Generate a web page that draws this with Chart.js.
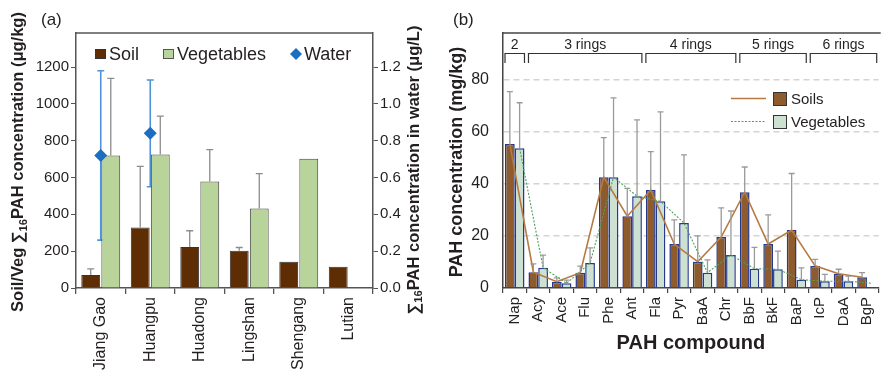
<!DOCTYPE html>
<html>
<head>
<meta charset="utf-8">
<title>PAH concentrations</title>
<script src="https://cdn.jsdelivr.net/npm/chart.js@4.4.1/dist/chart.umd.min.js"></script>
<style>
  body { margin: 0; background: #fff; }
  #chartA { position: absolute; left: 0; top: 0; }
  #chartB { position: absolute; left: 440px; top: 0; }
</style>
</head>
<body>
<canvas id="chartA" width="440" height="375"></canvas>
<canvas id="chartB" width="449" height="375"></canvas>
<script>
// ---- (a) total PAH per site ----
const sites = ['Jiang Gao', 'Huangpu', 'Huadong', 'Lingshan', 'Shengang', 'Lutian'];
const soilTotal = [70, 329, 223, 202, 142, 115];
const soilTotalSd = [34, 332, 88, 18, null, null];
const vegTotal = [720, 725, 578, 432, 702, null];
const vegTotalSd = [419, 209, 174, 189, null, null];
const waterTotal = [0.72, 0.84, null, null, null, null];
const waterTotalSd = [0.46, 0.29, null, null, null, null];
const soilVegTicks = [0, 200, 400, 600, 800, 1000, 1200];
const waterTicks = [0, 0.2, 0.4, 0.6, 0.8, 1.0, 1.2];

// ---- (b) individual compounds ----
const compounds = ['Nap', 'Acy', 'Ace', 'Flu', 'Phe', 'Ant', 'Fla', 'Pyr', 'BaA', 'Chr', 'BbF', 'BkF', 'BaP', 'IcP', 'DaA', 'BgP'];
const soilPah = [55.3, 6.1, 2.4, 5.9, 42.6, 27.6, 37.7, 16.9, 10.1, 19.6, 36.8, 16.9, 22.3, 8.5, 5.5, 4.1];
const soilPahSd = [20.2, 3.2, 1.5, 2.5, 15.2, 10.7, 14.7, 9.3, 9.9, 11.2, 9.7, 11.2, 21.7, 2.5, 1.7, 1.8];
const vegPah = [53.7, 7.8, 1.8, 9.6, 42.6, 35.3, 33.3, 25.0, 5.9, 12.7, 7.4, 7.2, 3.2, 2.6, 2.6, null];
const vegPahSd = [17.5, 4.8, 1.2, 5.8, 30.5, 29.3, 34.4, 26.2, 4.9, 16.9, 8.2, 7.0, 4.5, 2.6, 2.0, null];
const vegTrend = [53.7, 7.8, 1.8, 9.6, 42.6, 35.3, 33.3, 25.0, 5.9, 12.7, 7.4, 7.2, 3.2, 2.6, 2.6, 1.8];
const pahTicks = [0, 20, 40, 60, 80];
const ringLabels = ['2', '3 rings', '4 rings', '5 rings', '6 rings'];
const ringFirst = [0, 1, 6, 10, 13];
const ringLast = [0, 5, 9, 12, 15];

const FONT = '"Liberation Sans", Arial, sans-serif';
const INK = '#231f20';
Chart.defaults.font.family = FONT;
Chart.defaults.color = INK;

// draws vertical text with optional subscript parts, centred on (cx, cy)
function drawRotated(ctx, parts, cx, cy, size, bold) {
  const f = (s) => (bold ? 'bold ' : '') + s + 'px ' + FONT;
  let total = 0;
  parts.forEach(p => { ctx.font = f(p[1] ? size * 0.68 : size); total += ctx.measureText(p[0]).width; });
  ctx.save();
  ctx.translate(cx, cy);
  ctx.rotate(-Math.PI / 2);
  ctx.fillStyle = INK;
  ctx.textAlign = 'left';
  ctx.textBaseline = 'middle';
  let x = -total / 2;
  parts.forEach(p => {
    ctx.font = f(p[1] ? size * 0.68 : size);
    ctx.fillText(p[0], x, p[1] ? size * 0.32 : 0);
    x += ctx.measureText(p[0]).width;
  });
  ctx.restore();
}

function drawText(ctx, txt, x, y, size, bold, align) {
  ctx.save();
  ctx.font = (bold ? 'bold ' : '') + size + 'px ' + FONT;
  ctx.fillStyle = INK;
  ctx.textAlign = align || 'left';
  ctx.textBaseline = 'middle';
  ctx.fillText(txt, x, y);
  ctx.restore();
}

const fixedTicks = (list) => (scale) => { scale.ticks = list.map(v => ({ value: v })); };

// error bars from the dataset's own "errors" array
function drawErrors(chart, layer) {
  const ctx = chart.ctx;
  chart.data.datasets.forEach((ds, di) => {
    if (!ds.errors || (ds.errorLayer || 'after') !== layer) return;
    const meta = chart.getDatasetMeta(di);
    const ys = chart.scales[meta.yAxisID];
    ctx.save();
    ctx.strokeStyle = ds.errorColor;
    ctx.lineWidth = ds.errorWidth || 1;
    meta.data.forEach((el, i) => {
      const v = ds.data[i];
      const e = ds.errors[i];
      if (v == null || e == null) return;
      const x = el.x;
      const yTop = ys.getPixelForValue(v + e);
      const yBot = ds.errorBoth ? ys.getPixelForValue(v - e) : el.y;
      const cap = ds.errorCap;
      ctx.beginPath();
      ctx.moveTo(x, yBot); ctx.lineTo(x, yTop);
      ctx.moveTo(x - cap, yTop); ctx.lineTo(x + cap, yTop);
      if (ds.errorBoth) { ctx.moveTo(x - cap, yBot); ctx.lineTo(x + cap, yBot); }
      ctx.stroke();
    });
    ctx.restore();
  });
}

const errorBars = {
  id: 'errorBars',
  beforeDatasetsDraw(chart) { drawErrors(chart, 'before'); },
  afterDatasetsDraw(chart) { drawErrors(chart, 'after'); }
};

// polyline through the bar centres of a dataset ("trend" array)
const trendLines = {
  id: 'trendLines',
  afterDatasetsDraw(chart) {
    const ctx = chart.ctx;
    chart.data.datasets.forEach((ds, di) => {
      if (!ds.trend) return;
      const meta = chart.getDatasetMeta(di);
      const ys = chart.scales[meta.yAxisID];
      ctx.save();
      ctx.strokeStyle = ds.trendColor;
      ctx.lineWidth = ds.trendWidth;
      ctx.setLineDash(ds.trendDash || []);
      ctx.beginPath();
      ds.trend.forEach((v, i) => {
        const x = meta.data[i].x;
        const y = ys.getPixelForValue(v);
        if (i === 0) ctx.moveTo(x, y); else ctx.lineTo(x, y);
      });
      ctx.stroke();
      ctx.restore();
    });
  }
};

// ---------- panel (a) ----------
const panelA = {
  id: 'panelA',
  afterDraw(chart) {
    const ctx = chart.ctx;
    const a = chart.chartArea;
    ctx.save();
    ctx.strokeStyle = '#555';
    ctx.lineWidth = 1.5;
    ctx.beginPath();
    ctx.moveTo(a.left, a.top); ctx.lineTo(a.right, a.top);
    ctx.stroke();
    ctx.restore();

    drawText(ctx, '(a)', 41, 20, 17);
    drawRotated(ctx, [['Soil/Veg ', 0], ['\u2211', 0], ['16', 1], ['PAH concentration (\u03bcg/kg)', 0]], 18.5, 162, 16.5, true);
    drawRotated(ctx, [['\u2211', 0], ['16', 1], ['PAH concentration in water (\u03bcg/L)', 0]], 414, 170, 16.5, true);

    // legend
    const ly = 54;
    ctx.save();
    ctx.lineWidth = 1;
    ctx.fillStyle = '#5e2d03'; ctx.strokeStyle = '#333';
    ctx.fillRect(95, ly - 5, 11, 10); ctx.strokeRect(95.5, ly - 4.5, 10, 9);
    ctx.fillStyle = '#b9d49b'; ctx.strokeStyle = '#555';
    ctx.fillRect(163, ly - 5, 11, 10); ctx.strokeRect(163.5, ly - 4.5, 10, 9);
    ctx.fillStyle = '#1b6ec2';
    ctx.beginPath();
    ctx.moveTo(296, ly - 6); ctx.lineTo(302, ly); ctx.lineTo(296, ly + 6); ctx.lineTo(290, ly);
    ctx.closePath(); ctx.fill();
    ctx.restore();
    drawText(ctx, 'Soil', 109, ly + 1, 18);
    drawText(ctx, 'Vegetables', 177, ly + 1, 18);
    drawText(ctx, 'Water', 304, ly + 1, 18);
  }
};

new Chart(document.getElementById('chartA'), {
  type: 'bar',
  data: {
    labels: sites,
    datasets: [
      {
        label: 'Soil', data: soilTotal, errors: soilTotalSd,
        backgroundColor: '#5e2d03', borderColor: '#333', borderWidth: 1,
        categoryPercentage: 0.81, barPercentage: 0.94,
        errorColor: '#8c8c8c', errorWidth: 1.3, errorCap: 3.5
      },
      {
        label: 'Vegetables', data: vegTotal, errors: vegTotalSd,
        backgroundColor: '#b9d49b', borderColor: '#444', borderWidth: 1,
        categoryPercentage: 0.81, barPercentage: 0.94,
        errorColor: '#8c8c8c', errorWidth: 1.3, errorCap: 3.5
      },
      {
        type: 'line', label: 'Water', data: waterTotal, errors: waterTotalSd,
        yAxisID: 'y2', showLine: false, order: -1,
        pointStyle: 'rectRot', pointRadius: 6.5,
        backgroundColor: '#1b6ec2', borderColor: '#1b6ec2', borderWidth: 0,
        errorBoth: true, errorLayer: 'before',
        errorColor: '#4f94d8', errorWidth: 1.6, errorCap: 3.5
      }
    ]
  },
  options: {
    responsive: false,
    animation: false,
    layout: { padding: { top: 33, left: 0, right: 0, bottom: 0 } },
    plugins: { legend: { display: false }, tooltip: { enabled: false } },
    scales: {
      x: {
        offset: true,
        grid: { offset: true, drawOnChartArea: false, tickLength: 6, color: '#555', lineWidth: 1.3 },
        border: { color: '#555', width: 1.5 },
        ticks: { minRotation: 90, maxRotation: 90, font: { size: 16 }, color: INK, padding: 3 },
        afterFit: (s) => { s.height = 87; }
      },
      y: {
        min: 0, max: 1385,
        afterBuildTicks: fixedTicks(soilVegTicks),
        ticks: { font: { size: 15 }, color: INK, padding: 2, callback: (v) => String(v) },
        grid: { drawOnChartArea: false, tickLength: 5, color: '#555' },
        border: { color: '#555', width: 1.5 },
        afterFit: (s) => { s.width = 76; }
      },
      y2: {
        position: 'right',
        min: 0, max: 1.385,
        afterBuildTicks: fixedTicks(waterTicks),
        ticks: { font: { size: 15 }, color: INK, padding: 2, callback: (v) => v.toFixed(1) },
        grid: { drawOnChartArea: false, tickLength: 5, color: '#555' },
        border: { color: '#555', width: 1.5 },
        afterFit: (s) => { s.width = 67; }
      }
    }
  },
  plugins: [errorBars, panelA]
});

// ---------- panel (b) ----------
const panelB = {
  id: 'panelB',
  afterDraw(chart) {
    const ctx = chart.ctx;
    const a = chart.chartArea;
    const xs = chart.scales.x;
    ctx.save();
    ctx.strokeStyle = '#444';
    ctx.lineWidth = 1.5;
    ctx.beginPath();
    ctx.moveTo(a.left, a.top); ctx.lineTo(a.right + 2, a.top);
    ctx.stroke();

    // ring brackets
    ctx.strokeStyle = '#333';
    ctx.lineWidth = 1.2;
    ringLabels.forEach((lab, k) => {
      const x0 = xs.getPixelForValue(ringFirst[k] - 0.5) + 2;
      const x1 = Math.min(xs.getPixelForValue(ringLast[k] + 0.5) - 2, a.right - 1);
      ctx.beginPath();
      ctx.moveTo(x0, 63); ctx.lineTo(x0, 53.5); ctx.lineTo(x1, 53.5); ctx.lineTo(x1, 63);
      ctx.stroke();
      drawText(ctx, lab, (x0 + x1) / 2, 45, 14, false, 'center');
    });

    // legend
    ctx.lineWidth = 1.6;
    ctx.strokeStyle = '#b57a42';
    ctx.beginPath(); ctx.moveTo(291, 98.5); ctx.lineTo(326, 98.5); ctx.stroke();
    ctx.lineWidth = 1.2;
    ctx.strokeStyle = '#4f9f60';
    ctx.setLineDash([2, 1.5]);
    ctx.beginPath(); ctx.moveTo(291, 121.5); ctx.lineTo(326, 121.5); ctx.stroke();
    ctx.setLineDash([]);
    ctx.strokeStyle = '#333';
    ctx.lineWidth = 1;
    ctx.fillStyle = '#8e5b2c';
    ctx.fillRect(333, 92, 14, 14); ctx.strokeRect(333.5, 92.5, 13, 13);
    ctx.fillStyle = '#cde1d3';
    ctx.fillRect(333, 115, 14, 14); ctx.strokeRect(333.5, 115.5, 13, 13);
    ctx.restore();
    drawText(ctx, 'Soils', 351, 99.5, 15);
    drawText(ctx, 'Vegetables', 351, 122.5, 15);

    drawText(ctx, '(b)', 13, 20, 17);
    drawRotated(ctx, [['PAH concentration (mg/kg)', 0]], 17, 162, 18, true);
    drawText(ctx, 'PAH compound', (a.left + a.right) / 2, 343, 20, true, 'center');
  }
};

new Chart(document.getElementById('chartB'), {
  type: 'bar',
  data: {
    labels: compounds,
    datasets: [
      {
        label: 'Soils', data: soilPah, errors: soilPahSd,
        backgroundColor: '#8e5b2c', borderColor: '#27398c', borderWidth: 1.5,
        categoryPercentage: 0.83, barPercentage: 1.0,
        errorColor: '#9a9a9a', errorWidth: 1.3, errorCap: 3,
        trend: soilPah, trendColor: '#b57a42', trendWidth: 1.6
      },
      {
        label: 'Vegetables', data: vegPah, errors: vegPahSd,
        backgroundColor: '#cde1d3', borderColor: '#27398c', borderWidth: 1.5,
        categoryPercentage: 0.83, barPercentage: 1.0,
        errorColor: '#9a9a9a', errorWidth: 1.3, errorCap: 3,
        trend: vegTrend, trendColor: '#4f9f60', trendWidth: 1.1, trendDash: [2, 1.5]
      }
    ]
  },
  options: {
    responsive: false,
    animation: false,
    layout: { padding: { top: 33, left: 0, right: 1, bottom: 0 } },
    plugins: { legend: { display: false }, tooltip: { enabled: false } },
    scales: {
      x: {
        offset: true,
        grid: { offset: true, drawOnChartArea: false, tickLength: 5, color: '#444', lineWidth: 1.2 },
        border: { color: '#444', width: 1.5 },
        ticks: { minRotation: 90, maxRotation: 90, font: { size: 15 }, color: INK, padding: 4 },
        afterFit: (s) => { s.height = 87; }
      },
      y: {
        min: 0, max: 98,
        afterBuildTicks: fixedTicks(pahTicks),
        ticks: { font: { size: 16 }, color: INK, padding: 14 },
        grid: {
          drawTicks: false, lineWidth: 1.6,
          color: (c) => (c.tick && c.tick.value === 0 ? 'rgba(0,0,0,0)' : '#d4d4d4')
        },
        border: { color: '#444', width: 1.5, dash: [6, 4] },
        afterFit: (s) => { s.width = 63; }
      }
    }
  },
  plugins: [trendLines, errorBars, panelB]
});
</script>
</body>
</html>
